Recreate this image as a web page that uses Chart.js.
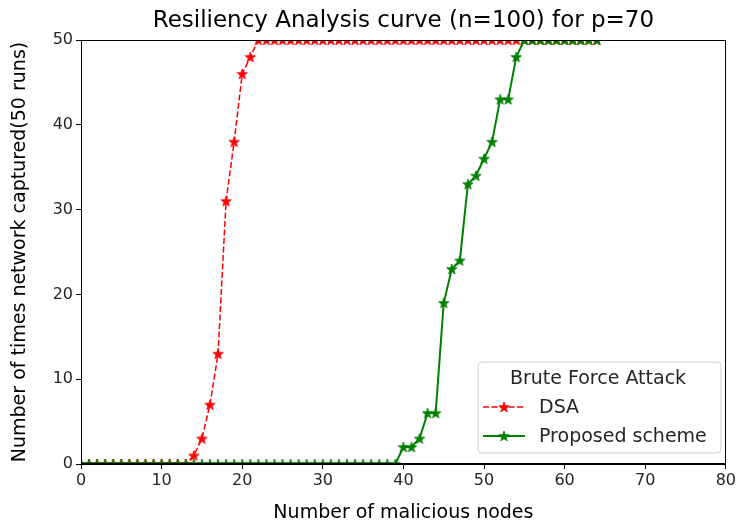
<!DOCTYPE html>
<html>
<head>
<meta charset="utf-8">
<script src="https://cdn.jsdelivr.net/npm/chart.js@4/dist/chart.umd.min.js"></script>
<style>
html,body{margin:0;padding:0;background:#fff;}
#wrap{width:738px;height:529px;position:relative;}
</style>
</head>
<body>
<div id="wrap"><canvas id="c" width="738" height="529"></canvas></div>
<script>
// ---- data ----
const xValues = [];
for (let i = 0; i <= 64; i++) xValues.push(i);
const dsaValues = [0,0,0,0,0,0,0,0,0,0,0,0,0,0,1,3,7,13,31,38,46,48,50,50,50,50,50,50,50,50,50,50,50,50,50,50,50,50,50,50,50,50,50,50,50,50,50,50,50,50,50,50,50,50,50,50,50,50,50,50,50,50,50,50,50];
const proposedValues = [0,0,0,0,0,0,0,0,0,0,0,0,0,0,0,0,0,0,0,0,0,0,0,0,0,0,0,0,0,0,0,0,0,0,0,0,0,0,0,0,2,2,3,6,6,19,23,24,33,34,36,38,43,43,48,50,50,50,50,50,50,50,50,50,50];
const seriesLabels = ['DSA', 'Proposed scheme'];
const legendTitle = 'Brute Force Attack';
const chartTitle = 'Resiliency Analysis curve (n=100) for p=70';
const xTitle = 'Number of malicious nodes';
const yTitle = 'Number of times network captured(50 runs)';
const xTicks = [0,10,20,30,40,50,60,70,80];
const yTicks = [0,10,20,30,40,50];

const FONT = "'DejaVu Sans', sans-serif";

function starCanvas(color, size) {
  const c = document.createElement('canvas');
  c.width = size; c.height = size;
  const g = c.getContext('2d');
  const cx = size / 2, cy = size / 2 + size * 0.04;
  const R = size / 2 - 0.5, r = R * 0.4;
  g.beginPath();
  for (let i = 0; i < 10; i++) {
    const rad = i % 2 === 0 ? R : r;
    const a = -Math.PI / 2 + i * Math.PI / 5;
    const px = cx + rad * Math.cos(a), py = cy + rad * Math.sin(a);
    if (i === 0) g.moveTo(px, py); else g.lineTo(px, py);
  }
  g.closePath();
  g.fillStyle = color; g.fill();
  g.strokeStyle = color; g.lineWidth = 0.8; g.stroke();
  return c;
}
const redStar = starCanvas('#ff0000', 12);
const greenStar = starCanvas('#008000', 12);

const frameLegendTitle = {
  id: 'frameLegendTitle',
  afterDatasetsDraw(chart) {
    const {ctx, chartArea: a} = chart;
    ctx.save();
    ctx.strokeStyle = '#000';
    ctx.lineWidth = 1;
    ctx.strokeRect(Math.round(a.left) + 0.5, Math.round(a.top) + 0.5, Math.round(a.right - a.left) - 1, Math.round(a.bottom - a.top) - 1);
    ctx.restore();
  },
  afterDraw(chart) {
    const {ctx, chartArea: a} = chart;
    const ds = chart.data.datasets;
    ctx.save();
    // title centred over the plot area
    ctx.fillStyle = '#000';
    ctx.font = "23px " + FONT;
    ctx.textAlign = 'center';
    ctx.textBaseline = 'alphabetic';
    ctx.fillText(chartTitle, (a.left + a.right) / 2, 27);
    // legend
    const bx = 478, by = 362, bw = 243, bh = 91, rr = 4;
    ctx.beginPath();
    ctx.moveTo(bx + rr, by);
    ctx.arcTo(bx + bw, by, bx + bw, by + bh, rr);
    ctx.arcTo(bx + bw, by + bh, bx, by + bh, rr);
    ctx.arcTo(bx, by + bh, bx, by, rr);
    ctx.arcTo(bx, by, bx + bw, by, rr);
    ctx.closePath();
    ctx.fillStyle = 'rgba(255,255,255,0.8)';
    ctx.fill();
    ctx.strokeStyle = '#d0d0d0';
    ctx.lineWidth = 1;
    ctx.stroke();
    ctx.fillStyle = '#262626';
    ctx.font = "19px " + FONT;
    ctx.textBaseline = 'middle';
    ctx.textAlign = 'center';
    ctx.fillText(legendTitle, bx + 120, by + 17);
    ctx.textAlign = 'left';
    const rows = [by + 45, by + 74];
    ds.forEach((d, i) => {
      const y = rows[i];
      ctx.beginPath();
      ctx.setLineDash(d.borderDash || []);
      ctx.strokeStyle = d.borderColor;
      ctx.lineWidth = d.borderWidth;
      ctx.moveTo(bx + 5, y);
      ctx.lineTo(bx + 47, y);
      ctx.stroke();
      ctx.setLineDash([]);
      const img = d.pointStyle;
      ctx.drawImage(img, bx + 26 - img.width / 2, y - img.height / 2);
      ctx.fillStyle = '#262626';
      ctx.fillText(d.label, bx + 61, y + 1);
    });
    ctx.restore();
  }
};

new Chart(document.getElementById('c'), {
  type: 'line',
  data: {
    datasets: [
      {
        label: seriesLabels[0],
        data: xValues.map((x, i) => ({x: x, y: dsaValues[i]})),
        borderColor: '#ff0000',
        backgroundColor: '#ff0000',
        borderWidth: 1.5,
        borderDash: [6, 2.5],
        pointStyle: redStar,
        pointRadius: 6,
        tension: 0,
        clip: 0,
        order: 1
      },
      {
        label: seriesLabels[1],
        data: xValues.map((x, i) => ({x: x, y: proposedValues[i]})),
        borderColor: '#008000',
        backgroundColor: '#008000',
        borderWidth: 2,
        pointStyle: greenStar,
        pointRadius: 6,
        tension: 0,
        clip: 0,
        order: 0
      }
    ]
  },
  options: {
    responsive: false,
    animation: false,
    events: [],
    layout: {padding: {top: 40, right: 10, left: 0, bottom: 0}},
    plugins: {
      legend: {display: false},
      tooltip: {enabled: false},
      title: {display: false}
    },
    scales: {
      x: {
        type: 'linear',
        min: 0, max: 80,
        afterFit(s) { s.height = 65; },
        afterBuildTicks(s) { s.ticks = xTicks.map(v => ({value: v})); },
        grid: {display: true, drawOnChartArea: false, drawTicks: true, tickLength: 5, color: '#000', tickWidth: 1},
        border: {display: true, color: '#000', width: 1},
        ticks: {color: '#262626', font: {family: FONT, size: 16}, padding: 2, maxRotation: 0},
        title: {display: true, text: xTitle, color: '#000', font: {family: FONT, size: 19}, padding: {top: 0, bottom: 4.6}}
      },
      y: {
        type: 'linear',
        min: 0, max: 50,
        afterFit(s) { s.width = 81; },
        afterBuildTicks(s) { s.ticks = yTicks.map(v => ({value: v})); },
        grid: {display: true, drawOnChartArea: false, drawTicks: true, tickLength: 5, color: '#000', tickWidth: 1},
        border: {display: true, color: '#000', width: 1},
        ticks: {color: '#262626', font: {family: FONT, size: 16}, padding: 3},
        title: {display: true, text: yTitle, color: '#000', font: {family: FONT, size: 19}, padding: {top: 8.6, bottom: 0}}
      }
    }
  },
  plugins: [frameLegendTitle]
});
</script>
</body>
</html>
